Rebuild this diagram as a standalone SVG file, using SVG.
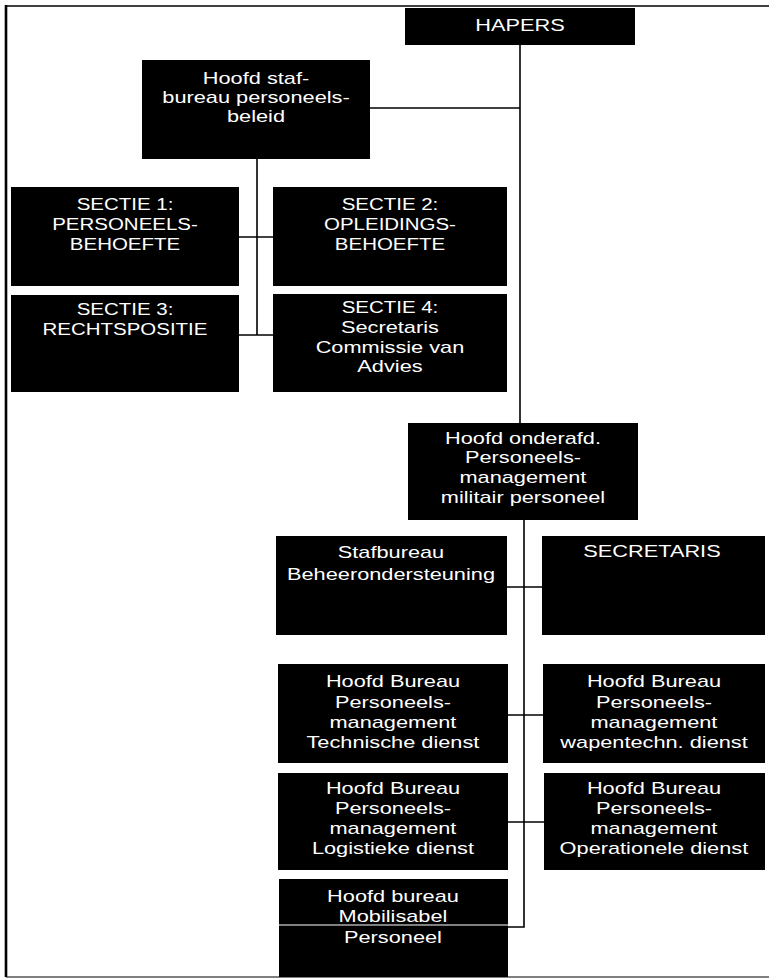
<svg xmlns="http://www.w3.org/2000/svg" width="769" height="979" viewBox="0 0 769 979">
  <style>
    .box { fill: #000; }
    .lbl { fill: #fff; font-family: "Liberation Sans", Arial, sans-serif; font-size: 17px; text-anchor: middle;
           transform-box: fill-box; transform-origin: center; transform: scaleX(1.28); }
    .caps { font-size: 16px; }
    .wire { fill: none; stroke: #000; stroke-width: 1.6; }
    .frame { fill: none; stroke: #000; }
    .rule { stroke: #fff; stroke-width: 1.2; }
  </style>

  <rect width="769" height="979" fill="#fff"/>

  <!-- page frame -->
  <g id="frame">
    <line class="frame" x1="6" y1="6" x2="769" y2="6" stroke-width="1.6"/>
    <line class="frame" x1="6" y1="5" x2="6" y2="977" stroke-width="2.6"/>
    <line class="frame" x1="6" y1="977" x2="769" y2="977" stroke-width="1.2" stroke="#555"/>
  </g>

  <!-- connectors -->
  <g id="connectors">
    <path class="wire" d="M520,45 V423"/>
    <path class="wire" d="M370,108 H520"/>
    <path class="wire" d="M257,159 V335"/>
    <path class="wire" d="M239,237 H273"/>
    <path class="wire" d="M239,335 H273"/>
    <path class="wire" d="M524,520 V927 H508"/>
    <path class="wire" d="M507,587 H542"/>
    <path class="wire" d="M508,715 H543"/>
    <path class="wire" d="M508,822 H544"/>
  </g>

  <g id="hapers">
    <rect class="box" x="405" y="8" width="230" height="37"/>
    <text class="lbl" x="520" y="31">HAPERS</text>
  </g>

  <g id="hoofd-stafbureau">
    <rect class="box" x="142" y="60" width="228" height="99"/>
    <text class="lbl" x="256" y="84">Hoofd staf-</text>
    <text class="lbl" x="256" y="103">bureau personeels-</text>
    <text class="lbl" x="256" y="122">beleid</text>
  </g>

  <g id="sectie-1">
    <rect class="box" x="11" y="187" width="228" height="99"/>
    <text class="lbl caps" x="125" y="210">SECTIE 1:</text>
    <text class="lbl caps" x="125" y="230">PERSONEELS-</text>
    <text class="lbl caps" x="125" y="250">BEHOEFTE</text>
  </g>

  <g id="sectie-2">
    <rect class="box" x="273" y="187" width="234" height="99"/>
    <text class="lbl caps" x="390" y="210">SECTIE 2:</text>
    <text class="lbl caps" x="390" y="230">OPLEIDINGS-</text>
    <text class="lbl caps" x="390" y="250">BEHOEFTE</text>
  </g>

  <g id="sectie-3">
    <rect class="box" x="11" y="295" width="228" height="97"/>
    <text class="lbl caps" x="125" y="315">SECTIE 3:</text>
    <text class="lbl caps" x="125" y="335">RECHTSPOSITIE</text>
  </g>

  <g id="sectie-4">
    <rect class="box" x="273" y="294" width="234" height="98"/>
    <text class="lbl caps" x="390" y="313">SECTIE 4:</text>
    <text class="lbl" x="390" y="333">Secretaris</text>
    <text class="lbl" x="390" y="353">Commissie van</text>
    <text class="lbl" x="390" y="372">Advies</text>
  </g>

  <g id="hoofd-onderafdeling">
    <rect class="box" x="408" y="423" width="230" height="97"/>
    <text class="lbl" x="523" y="444">Hoofd onderafd.</text>
    <text class="lbl" x="523" y="463">Personeels-</text>
    <text class="lbl" x="523" y="483">management</text>
    <text class="lbl" x="523" y="503">militair personeel</text>
  </g>

  <g id="stafbureau">
    <rect class="box" x="276" y="536" width="231" height="99"/>
    <text class="lbl" x="391" y="558">Stafbureau</text>
    <text class="lbl" x="391" y="580">Beheerondersteuning</text>
  </g>

  <g id="secretaris">
    <rect class="box" x="542" y="536" width="223" height="99"/>
    <text class="lbl" x="652" y="557">SECRETARIS</text>
  </g>

  <g id="technische-dienst">
    <rect class="box" x="278" y="664" width="230" height="99"/>
    <text class="lbl" x="393" y="687">Hoofd Bureau</text>
    <text class="lbl" x="393" y="708">Personeels-</text>
    <text class="lbl" x="393" y="728">management</text>
    <text class="lbl" x="393" y="748">Technische dienst</text>
  </g>

  <g id="wapentechnische-dienst">
    <rect class="box" x="543" y="664" width="222" height="99"/>
    <text class="lbl" x="654" y="687">Hoofd Bureau</text>
    <text class="lbl" x="654" y="708">Personeels-</text>
    <text class="lbl" x="654" y="728">management</text>
    <text class="lbl" x="654" y="748">wapentechn. dienst</text>
  </g>

  <g id="logistieke-dienst">
    <rect class="box" x="278" y="773" width="230" height="97"/>
    <text class="lbl" x="393" y="794">Hoofd Bureau</text>
    <text class="lbl" x="393" y="814">Personeels-</text>
    <text class="lbl" x="393" y="834">management</text>
    <text class="lbl" x="393" y="854">Logistieke dienst</text>
  </g>

  <g id="operationele-dienst">
    <rect class="box" x="544" y="773" width="221" height="97"/>
    <text class="lbl" x="654" y="794">Hoofd Bureau</text>
    <text class="lbl" x="654" y="814">Personeels-</text>
    <text class="lbl" x="654" y="834">management</text>
    <text class="lbl" x="654" y="854">Operationele dienst</text>
  </g>

  <g id="mobilisabel-personeel">
    <rect class="box" x="279" y="879" width="229" height="98"/>
    <line class="rule" x1="279" y1="925" x2="508" y2="925"/>
    <text class="lbl" x="393" y="902">Hoofd bureau</text>
    <text class="lbl" x="393" y="922">Mobilisabel</text>
    <text class="lbl" x="393" y="943">Personeel</text>
  </g>
</svg>
